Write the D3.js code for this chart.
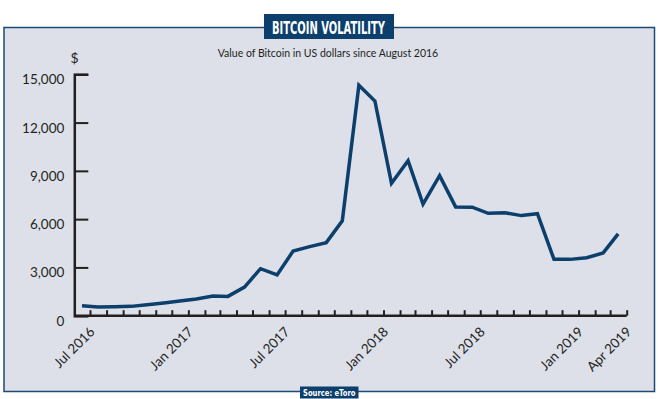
<!DOCTYPE html>
<meta charset="utf-8">
<style>
  body { margin: 0; background: #fff; }
  svg { display: block; }
  .tick text { font-family: Lato, sans-serif; fill: #231f20; }
</style>
<svg width="658" height="399" id="chart"></svg>

<script src="https://d3js.org/d3.v7.min.js"></script>
<script>

// monthly bitcoin price, US$ (points drawn mid-month)
var months = ["2016-06","2016-07","2016-08","2016-09","2016-10","2016-11","2016-12",
  "2017-01","2017-02","2017-03","2017-04","2017-05","2017-06","2017-07","2017-08",
  "2017-09","2017-10","2017-11","2017-12","2018-01","2018-02","2018-03","2018-04",
  "2018-05","2018-06","2018-07","2018-08","2018-09","2018-10","2018-11","2018-12",
  "2019-01","2019-02","2019-03"]
var prices = [620, 540, 560, 580, 685, 790, 910, 1035, 1220, 1200, 1780, 2920,
  2530, 4020, 4290, 4540, 5900, 14320, 13340, 8230, 9630, 6940, 8700, 6760,
  6740, 6360, 6400, 6220, 6340, 3500, 3500, 3600, 3900, 5080]
var yTicks = [0, 3000, 6000, 9000, 12000, 15000]
var labelled = ["2016-07","2017-01","2017-07","2018-01","2018-07","2019-01","2019-04"]

var navy = "#0c3f6c"
var ink = "#231f20"

var parse = d3.timeParse("%Y-%m")
var data = months.map(function(m, i) {
  var d = parse(m)
  return { date: new Date(d.getFullYear(), d.getMonth(), 16), value: prices[i] }
})

var svg = d3.select("#chart")

// frame
svg.append("rect")
  .attr("x", 4).attr("y", 27.5)
  .attr("width", 650.5).attr("height", 364)
  .attr("fill", "#dde0e9")
  .attr("stroke", "#1c4a72")
  .attr("stroke-width", 1.5)

// title box
svg.append("rect")
  .attr("x", 264).attr("y", 14).attr("width", 130).attr("height", 25)
  .attr("fill", navy)
svg.append("text")
  .attr("x", 272).attr("y", 33.5)
  .attr("textLength", 113).attr("lengthAdjust", "spacingAndGlyphs")
  .style("font-family", "DejaVu Sans").style("font-weight", "bold")
  .style("font-size", "18px").attr("fill", "#fff")
  .text("BITCOIN VOLATILITY")

svg.append("text")
  .attr("x", 328).attr("y", 57)
  .attr("text-anchor", "middle")
  .style("font-family", "Lato").style("font-size", "10.5px").attr("fill", ink)
  .text("Value of Bitcoin in US dollars since August 2016")

svg.append("text")
  .attr("x", 74.5).attr("y", 63)
  .attr("text-anchor", "middle")
  .style("font-family", "Lato").style("font-size", "14px").attr("fill", ink)
  .text("$")

// source box
svg.append("rect")
  .attr("x", 300).attr("y", 386.5).attr("width", 58.5).attr("height", 12)
  .attr("fill", navy)
svg.append("text")
  .attr("x", 303).attr("y", 396)
  .attr("textLength", 52.5).attr("lengthAdjust", "spacingAndGlyphs")
  .style("font-family", "DejaVu Sans").style("font-weight", "bold")
  .style("font-size", "9.5px").attr("fill", "#fff")
  .text("Source: eToro")

// scales
var x = d3.scaleTime()
  .domain([new Date(2016, 6, 1), new Date(2019, 3, 1)])
  .range([90, 626.7])

var y = d3.scaleLinear()
  .domain([0, 15000])
  .range([315.7, 74.3])

// y axis
var yAxis = svg.append("g")
  .attr("transform", "translate(74.3,0)")
  .call(d3.axisRight(y).tickValues(yTicks).tickSize(14).tickFormat(d3.format(",")))
yAxis.select(".domain").attr("stroke", ink).attr("stroke-width", 2.5)
yAxis.selectAll(".tick line").attr("stroke", ink).attr("stroke-width", 2)
yAxis.selectAll(".tick text")
  .attr("x", -10).attr("dy", "0.7em")
  .attr("text-anchor", "end")
  .style("font-size", "13.5px")

// x axis
var fmt = d3.timeFormat("%b %Y")
var key = d3.timeFormat("%Y-%m")
var xAxis = svg.append("g")
  .attr("transform", "translate(0,315.7)")
  .call(d3.axisBottom(x).ticks(d3.timeMonth.every(1)).tickSize(-5.5)
    .tickFormat(function(d) { return labelled.indexOf(key(d)) >= 0 ? fmt(d) : "" }))
xAxis.select(".domain").attr("d", "M74.3,0H" + x.range()[1]).attr("stroke", ink).attr("stroke-width", 2.5)
xAxis.selectAll(".tick line").attr("stroke", ink).attr("stroke-width", 2)
xAxis.selectAll(".tick text")
  .attr("y", 0).attr("dy", 0)
  .attr("text-anchor", "end")
  .attr("transform", "translate(5,17) rotate(-45)")
  .style("font-size", "13.5px")

// price line
var line = d3.line()
  .x(function(d) { return x(d.date) })
  .y(function(d) { return y(d.value) })

svg.append("path")
  .datum(data)
  .attr("d", line)
  .attr("fill", "none")
  .attr("stroke", navy)
  .attr("stroke-width", 3.5)

</script>
